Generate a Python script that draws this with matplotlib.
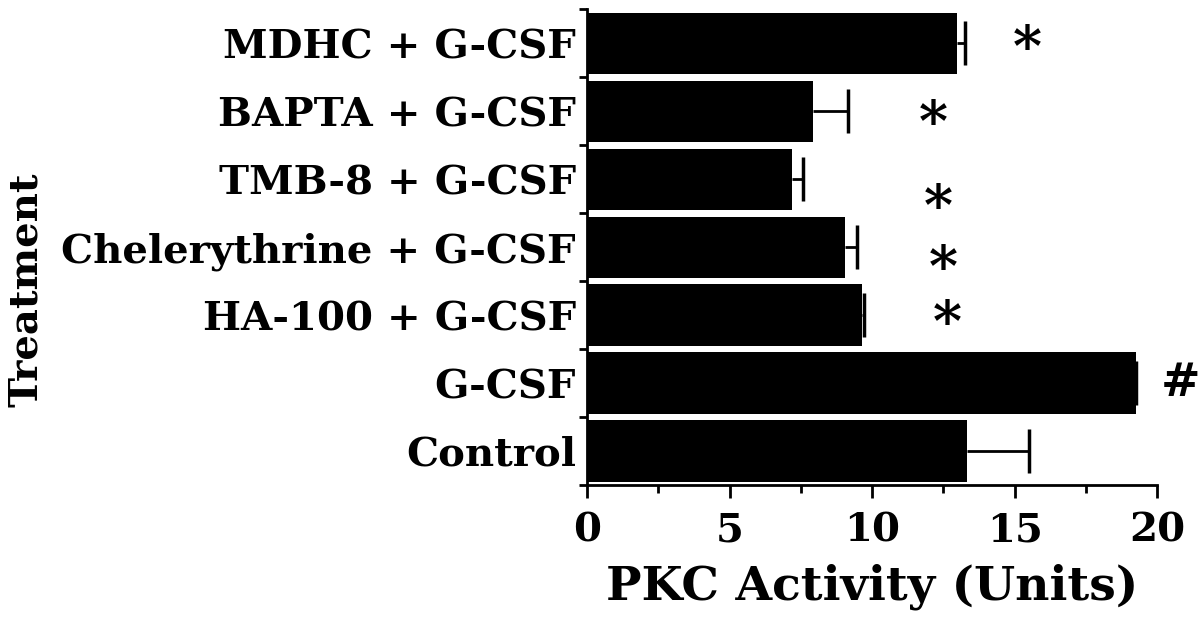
import numpy as np
import matplotlib.pyplot as plt
from matplotlib.ticker import MultipleLocator, FixedLocator

# data (bottom to top)
treatments = ['Control', 'G-CSF', 'HA-100 + G-CSF', 'Chelerythrine + G-CSF',
              'TMB-8 + G-CSF', 'BAPTA + G-CSF', 'MDHC + G-CSF']
pkc_activity = [13.33, 19.27, 9.63, 9.05, 7.19, 7.93, 12.96]
pkc_err = [2.17, 0.0, 0.1, 0.43, 0.39, 1.22, 0.3]

# significance marks
mark_text = ['*', '*', '*', '*', '*', '#']
mark_x = [15.44, 12.14, 12.32, 12.49, 12.63, 20.8]
mark_y = [6.07, 4.97, 3.74, 2.84, 2.03, 1.0]

plt.rcParams['font.family'] = 'DejaVu Serif'
plt.rcParams['font.weight'] = 'bold'

fig = plt.figure(figsize=(12.03, 6.17), dpi=100)
ax = fig.add_axes([0.488, 0.214, 0.474, 0.771])

y = np.arange(len(treatments))
vals = np.array(pkc_activity)
errs = np.array(pkc_err)
ax.barh(y, vals, height=0.9, color='black')
# one-sided error bars, cap only on the outer end
ax.errorbar(vals, y, xerr=[np.zeros(len(errs)), errs], fmt='none',
            ecolor='black', elinewidth=2, capsize=0)
ax.plot(vals + errs, y, ls='none', marker='|', color='black',
        markersize=32, markeredgewidth=2.5)

for t, mx, my in zip(mark_text, mark_x, mark_y):
    if t == '*':
        ax.annotate(t, (mx, my), xytext=(0, -9), textcoords='offset points',
                    ha='center', va='center', fontsize=40, fontweight='bold',
                    annotation_clip=False)
    else:
        ax.annotate(t, (mx, my), xytext=(0, 0), textcoords='offset points',
                    ha='center', va='center', fontsize=34, fontweight='bold',
                    annotation_clip=False)

ax.set_xlim(0, 20)
ax.set_ylim(-0.5, len(treatments) - 0.5)
ax.xaxis.set_major_locator(MultipleLocator(5))
ax.xaxis.set_minor_locator(MultipleLocator(2.5))
ax.tick_params(axis='x', which='major', length=9, width=2, labelsize=29, pad=10)
ax.tick_params(axis='x', which='minor', length=6, width=2)

# y ticks at slot boundaries, labels at bar centres
ax.yaxis.set_major_locator(FixedLocator(np.arange(-0.5, len(treatments), 1.0)))
ax.yaxis.set_major_formatter(plt.NullFormatter())
ax.yaxis.set_minor_locator(FixedLocator(y))
ax.set_yticklabels(treatments, minor=True)
ax.tick_params(axis='y', which='major', length=6, width=2)
ax.tick_params(axis='y', which='minor', length=0, labelsize=29, pad=8)

for s in ['top', 'right']:
    ax.spines[s].set_visible(False)
for s in ['left', 'bottom']:
    ax.spines[s].set_linewidth(2)

ax.set_xlabel('PKC Activity (Units)', fontsize=34, fontweight='bold', labelpad=10)
ax.set_ylabel('Treatment', fontsize=29, fontweight='bold')
ax.yaxis.set_label_coords(-0.951, 0.41)

fig.savefig('out.png', dpi=100)
